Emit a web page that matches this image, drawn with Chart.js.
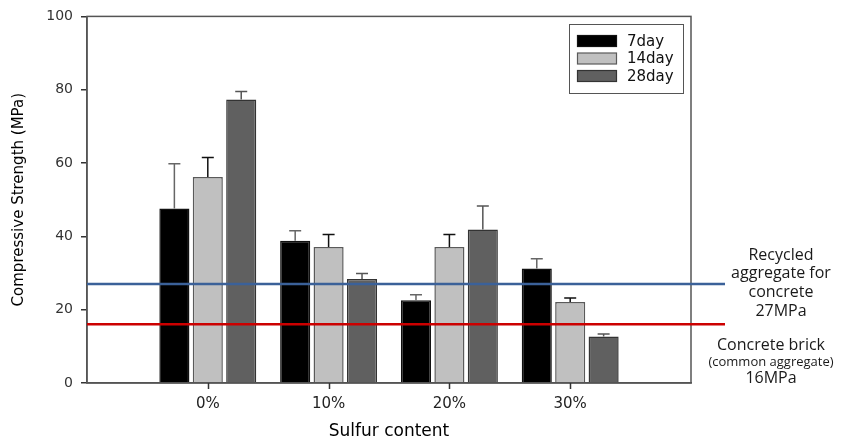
<!DOCTYPE html>
<html>
<head>
<meta charset="utf-8">
<script src="https://cdn.jsdelivr.net/npm/chart.js@4/dist/chart.umd.min.js"></script>
<style>
  html, body { margin: 0; padding: 0; background: #fff; }
  #wrap { width: 843px; height: 439px; position: relative; }
</style>
</head>
<body>
<div id="wrap"><canvas id="c" width="843" height="439"></canvas></div>
<script>
// Sulfur content categories
const categories = ['0%', '10%', '20%', '30%'];
// Mean compressive strength (MPa) by curing age
const day7 = [47.6, 38.8, 22.6, 31.2];
const day14 = [56.2, 37.1, 37.1, 22.1];
const day28 = [77.3, 28.4, 41.9, 12.7];
// Upper error (standard deviation, MPa)
const day7Err = [12.2, 2.7, 1.5, 2.7];
const day14Err = [5.3, 3.4, 3.4, 1.1];
const day28Err = [2.2, 1.5, 6.4, 0.7];
// Series names
const seriesNames = ['7day', '14day', '28day'];
// Y axis ticks
const yTicks = [0, 20, 40, 60, 80, 100];
// Reference strengths (MPa)
const thresholdValues = [27, 16];

// one empty slot on each side of the categories
const labels = [''].concat(categories, ['']);
const pad = arr => [null].concat(arr, [null]);

const styles = [
  { bg: '#000000', border: '#111111', err: '#666666' },
  { bg: '#c0c0c0', border: '#5a5a5a', err: '#111111' },
  { bg: '#606060', border: '#333333', err: '#555555' }
];
const values = [day7, day14, day28];
const errors = [day7Err, day14Err, day28Err];

const datasets = seriesNames.map((name, i) => ({
  label: name,
  data: pad(values[i]),
  errors: pad(errors[i]),
  backgroundColor: styles[i].bg,
  borderColor: styles[i].border,
  errColor: styles[i].err,
  borderWidth: 1.5,
  borderSkipped: 'bottom',
  categoryPercentage: 0.83,
  barPercentage: 0.9
}));

// plot box plus the category tick marks below the x axis
const frame = {
  id: 'frame',
  afterDatasetsDraw(chart) {
    const { ctx, chartArea: a } = chart;
    const x = chart.scales.x;
    ctx.save();
    ctx.strokeStyle = '#555';
    ctx.lineWidth = 1.5;
    ctx.strokeRect(a.left, a.top, a.right - a.left, a.bottom - a.top);
    ctx.strokeStyle = '#333';
    ctx.beginPath();
    categories.forEach((c, i) => {
      const px = Math.round(x.getPixelForValue(i + 1)) + 0.5;
      ctx.moveTo(px, a.bottom);
      ctx.lineTo(px, a.bottom + 6);
    });
    ctx.stroke();
    ctx.restore();
  }
};

const errorBars = {
  id: 'errorBars',
  afterDatasetsDraw(chart) {
    const { ctx } = chart;
    const y = chart.scales.y;
    ctx.save();
    chart.data.datasets.forEach((ds, di) => {
      const meta = chart.getDatasetMeta(di);
      meta.data.forEach((bar, j) => {
        const v = ds.data[j];
        const e = ds.errors[j];
        if (v == null || e == null) return;
        const top = y.getPixelForValue(v + e);
        const base = y.getPixelForValue(v);
        ctx.strokeStyle = ds.errColor;
        ctx.lineWidth = 1.5;
        ctx.beginPath();
        ctx.moveTo(bar.x, base);
        ctx.lineTo(bar.x, top);
        ctx.moveTo(bar.x - 6, top);
        ctx.lineTo(bar.x + 6, top);
        ctx.stroke();
      });
    });
    ctx.restore();
  }
};

const thresholds = {
  id: 'thresholds',
  afterDraw(chart) {
    const { ctx, chartArea: a } = chart;
    const y = chart.scales.y;
    const colors = ['#3b6199', '#cc0000'];
    ctx.save();
    thresholdValues.forEach((v, i) => {
      const py = y.getPixelForValue(v);
      ctx.strokeStyle = colors[i];
      ctx.lineWidth = 2.5;
      ctx.beginPath();
      ctx.moveTo(a.left, py);
      ctx.lineTo(a.right + 34, py);
      ctx.stroke();
    });
    ctx.fillStyle = '#1a1a1a';
    ctx.textAlign = 'center';
    ctx.textBaseline = 'middle';
    ctx.font = '16px "Open Sans"';
    const cx1 = a.right + 90;
    ['Recycled', 'aggregate for', 'concrete', thresholdValues[0] + 'MPa'].forEach((t, k) => {
      ctx.fillText(t, cx1, 255 + k * 18.7);
    });
    const cx2 = a.right + 80;
    ctx.fillText('Concrete brick', cx2, 345);
    ctx.font = '13px "Open Sans"';
    ctx.fillText('(common aggregate)', cx2, 362);
    ctx.font = '16px "Open Sans"';
    ctx.fillText(thresholdValues[1] + 'MPa', cx2, 378);
    ctx.restore();
  }
};

const legendBox = {
  id: 'legendBox',
  afterDraw(chart) {
    const { ctx } = chart;
    ctx.save();
    ctx.strokeStyle = '#555';
    ctx.lineWidth = 1;
    ctx.strokeRect(569.5, 24.5, 114, 69);
    ctx.font = '15px "DejaVu Sans"';
    ctx.textBaseline = 'middle';
    ctx.textAlign = 'left';
    chart.data.datasets.forEach((ds, i) => {
      const cy = 41 + i * 17.5;
      ctx.fillStyle = ds.backgroundColor;
      ctx.fillRect(577.5, cy - 5.5, 39, 11);
      ctx.strokeStyle = ds.borderColor;
      ctx.lineWidth = 1.2;
      ctx.strokeRect(577.5, cy - 5.5, 39, 11);
      ctx.fillStyle = '#111';
      ctx.fillText(ds.label, 627, cy + 1);
    });
    ctx.restore();
  }
};

new Chart(document.getElementById('c'), {
  type: 'bar',
  data: { labels, datasets },
  options: {
    responsive: false,
    animation: false,
    devicePixelRatio: 1,
    layout: { padding: { left: 0, right: 152, top: 16, bottom: 0 } },
    plugins: { legend: { display: false }, tooltip: { enabled: false } },
    scales: {
      x: {
        type: 'category',
        offset: false,
        grid: { display: false },
        border: { display: true, color: '#555', width: 1.5 },
        ticks: { font: { family: 'DejaVu Sans', size: 15 }, color: '#222', padding: 4, autoSkip: false, maxRotation: 0 },
        title: { display: true, text: 'Sulfur content', font: { family: 'DejaVu Sans', size: 17 }, color: '#000', padding: { top: 0, bottom: -3 } },
        afterFit: s => { s.height = 56; }
      },
      y: {
        min: 0,
        max: 100,
        afterBuildTicks: s => { s.ticks = yTicks.map(v => ({ value: v })); },
        grid: { drawOnChartArea: false, tickLength: 6, lineWidth: 1.5, color: '#333' },
        border: { display: true, color: '#555', width: 1.5 },
        ticks: { font: { family: 'DejaVu Sans', size: 14 }, color: '#333', padding: 8 },
        title: { display: true, text: 'Compressive Strength (MPa)', font: { family: 'DejaVu Sans', size: 15 }, color: '#000', padding: { top: 10, bottom: 0 } },
        afterFit: s => { s.width = 87; }
      }
    }
  },
  plugins: [frame, errorBars, thresholds, legendBox]
});
</script>
</body>
</html>
